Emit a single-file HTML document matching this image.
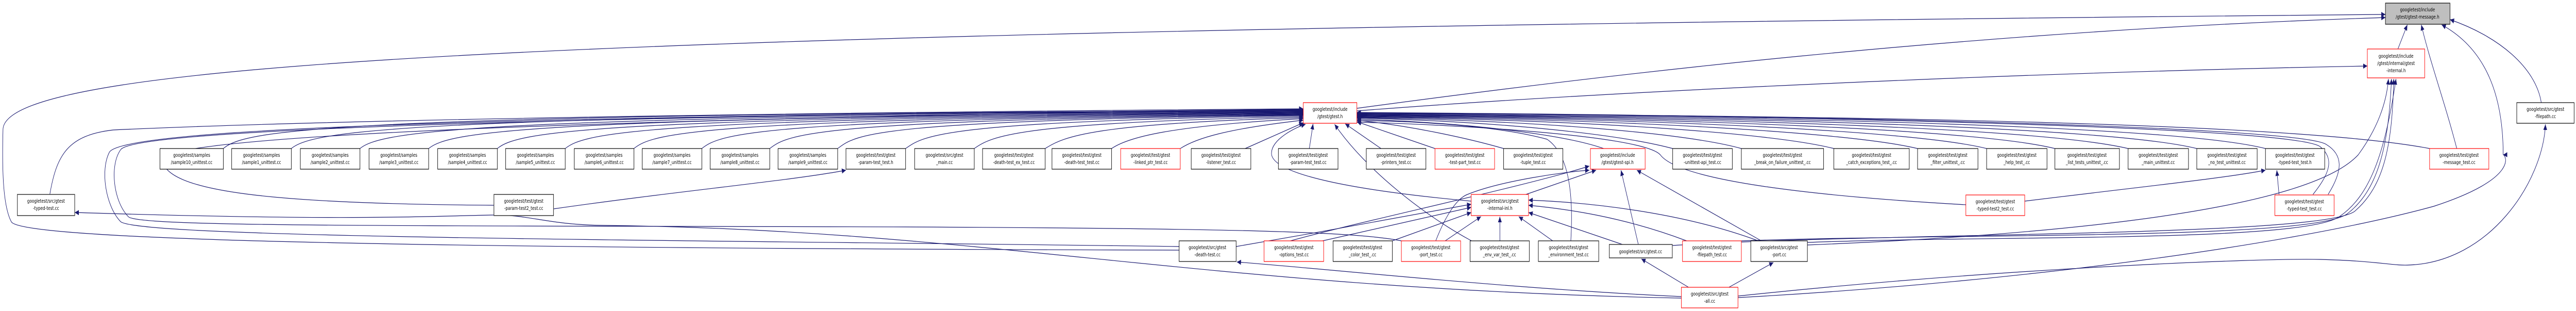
<!DOCTYPE html>
<html><head><meta charset="utf-8">
<style>
html,body{margin:0;padding:0;background:#fff;overflow:hidden;width:100%;height:100%;}
svg{display:block;width:100vw;height:100vh;}
text{font-family:"DejaVu Sans","Liberation Sans",sans-serif;font-size:10px;fill:#000;text-anchor:middle;}
.e{fill:none;stroke:#191970;stroke-width:1.2;}
</style></head>
<body>
<svg viewBox="0 0 6827 603" preserveAspectRatio="none" xmlns="http://www.w3.org/2000/svg">
<defs>
<marker id="a" markerUnits="userSpaceOnUse" markerWidth="12" markerHeight="10" refX="11" refY="5" orient="auto">
<path d="M0,0 L11,5 L0,10 z" fill="#191970"/>
</marker>
</defs>
<g class="edges" marker-end="url(#a)">
<path class="e" d="M592,288 C650,250 900,222 3454,214"/>
<path class="e" d="M772,288 C830,252 1100,224 3454,215"/>
<path class="e" d="M954,288 C1010,254 1250,226 3454,216"/>
<path class="e" d="M1136,288 C1190,255 1400,228 3454,217"/>
<path class="e" d="M1318,288 C1370,256 1550,229 3454,218"/>
<path class="e" d="M1498,288 C1550,257 1700,230 3454,219"/>
<path class="e" d="M1680,288 C1730,258 1850,231 3454,220"/>
<path class="e" d="M1860,288 C1910,259 2000,232 3454,221"/>
<path class="e" d="M2040,288 C2090,260 2150,233 3454,222"/>
<path class="e" d="M2220,288 C2270,261 2300,234 3454,223"/>
<path class="e" d="M2400,288 C2450,262 2500,236 3454,224"/>
<path class="e" d="M2582,288 C2630,263 2700,238 3454,226"/>
<path class="e" d="M2770,288 C2820,264 2900,240 3454,228"/>
<path class="e" d="M2946,288 C2990,266 3100,244 3454,230"/>
<path class="e" d="M3128,288 C3170,268 3250,250 3454,233"/>
<path class="e" d="M3300,288 L3454,238"/>
<path class="e" d="M3470,288 L3480,240"/>
<path class="e" d="M3660,288 L3565,240"/>
<path class="e" d="M3803,288 L3596,236"/>
<path class="e" d="M3985,288 C3900,270 3750,245 3596,233"/>
<path class="e" d="M4250,288 C4150,262 3900,238 3596,231"/>
<path class="e" d="M4433,288 C4300,262 4000,236 3596,229"/>
<path class="e" d="M4615,288 C4480,260 4100,234 3596,228"/>
<path class="e" d="M4860,288 C4700,258 4200,232 3596,227"/>
<path class="e" d="M5082,288 C4900,256 4300,231 3596,226"/>
<path class="e" d="M5265,288 C5080,254 4400,230 3596,225"/>
<path class="e" d="M5446,288 C5250,252 4500,229 3596,224"/>
<path class="e" d="M5640,288 C5420,250 4600,228 3596,223"/>
<path class="e" d="M5822,288 C5600,248 4700,227 3596,222"/>
<path class="e" d="M6004,288 C5780,246 4800,226 3596,221"/>
<path class="e" d="M6439,288 C6100,240 5000,224 3596,220"/>
<path class="e" d="M6130,377 C6170,340 6190,310 6150,285 C6100,250 5000,226 3596,219"/>
<path class="e" d="M6170,377 C6210,330 6210,300 6165,280 C6100,248 5000,225 3596,218"/>
<path class="e" d="M3596,210 C4200,150 5200,60 6322,34"/>
<path class="e" d="M3596,215 C4300,175 5400,140 6274,128"/>
<path class="e" d="M6355,95 L6380,48"/>
<path class="e" d="M6511,288 C6480,200 6440,120 6417,48"/>
<path class="e" d="M6634,300 C6634,200 6600,100 6471,48"/>
<path class="e" d="M6735,199 C6720,130 6620,70 6493,38"/>
<path class="e" d="M3125,485 C1500,482 60,472 30,430 C8,400 5,330 8,250 C20,120 1500,60 6322,28"/>
<path class="e" d="M3125,478 C1800,465 380,462 320,430 C280,400 265,330 290,295 C330,245 1500,224 3454,213"/>
<path class="e" d="M3714,467 C3600,450 3300,443 2400,440 C1000,437 360,440 340,420 C300,390 290,320 320,290 C360,250 1500,226 3454,212"/>
<path class="e" d="M132,377 C150,300 180,262 300,252 C1000,228 2500,216 3454,211"/>
<path class="e" d="M1309,398 C700,395 440,370 430,310 C420,255 2000,226 3454,212"/>
<path class="e" d="M1467,405 C1800,370 2100,350 2242,330"/>
<path class="e" d="M3505,467 L3899,402"/>
<path class="e" d="M3690,467 L3899,412"/>
<path class="e" d="M3830,467 L3925,420"/>
<path class="e" d="M3975,467 L3975,420"/>
<path class="e" d="M4115,467 L4025,420"/>
<path class="e" d="M4300,474 L4051,412"/>
<path class="e" d="M4470,467 C4300,420 4150,405 4051,398"/>
<path class="e" d="M4660,467 C4450,410 4200,392 4051,388"/>
<path class="e" d="M3276,478 C3500,450 3800,410 3899,396"/>
<path class="e" d="M3899,390 C3600,370 3380,340 3370,300 C3365,270 3440,245 3460,241"/>
<path class="e" d="M4044,377 L4230,330"/>
<path class="e" d="M4342,474 L4296,330"/>
<path class="e" d="M4668,467 L4338,330"/>
<path class="e" d="M3805,467 C3830,420 3860,385 3889,377 C3980,350 4150,333 4212,330"/>
<path class="e" d="M3420,467 C3600,430 4050,360 4212,322"/>
<path class="e" d="M3900,467 C3780,420 3620,330 3537,241"/>
<path class="e" d="M4163,467 C4170,380 4160,300 4100,270 C3950,240 3700,234 3596,234"/>
<path class="e" d="M5210,397 C4800,380 4450,350 4400,300 C4350,260 3800,240 3596,237"/>
<path class="e" d="M5366,390 C5700,360 5900,345 6004,330"/>
<path class="e" d="M6040,377 L6034,330"/>
<path class="e" d="M4475,557 L4350,502"/>
<path class="e" d="M4582,557 L4700,509"/>
<path class="e" d="M4456,575 C4000,560 3500,520 3278,508"/>
<path class="e" d="M4456,578 C3200,560 2600,445 1600,437 C1450,436 1400,415 1300,417 C1100,420 900,428 198,412"/>
<path class="e" d="M4606,574 C5300,520 6000,500 6150,503 C6300,506 6340,515 6380,514 C6600,510 6740,350 6746,241"/>
<path class="e" d="M4606,577 C5400,545 6100,470 6450,400 C6680,345 6640,300 6634,300"/>
<path class="e" d="M4790,470 C5300,456 6100,470 6200,420 C6280,380 6320,300 6350,153"/>
<path class="e" d="M4615,467 C5200,452 6120,465 6220,415 C6300,370 6330,290 6338,153"/>
<path class="e" d="M4432,476 C5000,450 6140,460 6240,410 C6320,360 6340,280 6344,153"/>
<path class="e" d="M4790,475 C5300,460 6100,420 6250,300 C6300,250 6325,200 6330,153"/>
</g>

<g stroke-width="1.2">
<g><rect x="424" y="288" width="168" height="40" fill="#fff" stroke="#000"/><text x="508" y="304">googletest/samples</text><text x="508" y="318">/sample10_unittest.cc</text></g>
<g><rect x="614" y="288" width="158" height="40" fill="#fff" stroke="#000"/><text x="693" y="304">googletest/samples</text><text x="693" y="318">/sample1_unittest.cc</text></g>
<g><rect x="796" y="288" width="158" height="40" fill="#fff" stroke="#000"/><text x="875" y="304">googletest/samples</text><text x="875" y="318">/sample2_unittest.cc</text></g>
<g><rect x="978" y="288" width="158" height="40" fill="#fff" stroke="#000"/><text x="1057" y="304">googletest/samples</text><text x="1057" y="318">/sample3_unittest.cc</text></g>
<g><rect x="1160" y="288" width="158" height="40" fill="#fff" stroke="#000"/><text x="1239" y="304">googletest/samples</text><text x="1239" y="318">/sample4_unittest.cc</text></g>
<g><rect x="1340" y="288" width="158" height="40" fill="#fff" stroke="#000"/><text x="1419" y="304">googletest/samples</text><text x="1419" y="318">/sample5_unittest.cc</text></g>
<g><rect x="1522" y="288" width="158" height="40" fill="#fff" stroke="#000"/><text x="1601" y="304">googletest/samples</text><text x="1601" y="318">/sample6_unittest.cc</text></g>
<g><rect x="1702" y="288" width="158" height="40" fill="#fff" stroke="#000"/><text x="1781" y="304">googletest/samples</text><text x="1781" y="318">/sample7_unittest.cc</text></g>
<g><rect x="1882" y="288" width="158" height="40" fill="#fff" stroke="#000"/><text x="1961" y="304">googletest/samples</text><text x="1961" y="318">/sample8_unittest.cc</text></g>
<g><rect x="2062" y="288" width="158" height="40" fill="#fff" stroke="#000"/><text x="2141" y="304">googletest/samples</text><text x="2141" y="318">/sample9_unittest.cc</text></g>
<g><rect x="2242" y="288" width="158" height="40" fill="#fff" stroke="#000"/><text x="2321" y="304">googletest/test/gtest</text><text x="2321" y="318">-param-test_test.h</text></g>
<g><rect x="2424" y="288" width="158" height="40" fill="#fff" stroke="#000"/><text x="2503" y="304">googletest/src/gtest</text><text x="2503" y="318">_main.cc</text></g>
<g><rect x="2604" y="288" width="166" height="40" fill="#fff" stroke="#000"/><text x="2687" y="304">googletest/test/gtest</text><text x="2687" y="318">-death-test_ex_test.cc</text></g>
<g><rect x="2788" y="288" width="158" height="40" fill="#fff" stroke="#000"/><text x="2867" y="304">googletest/test/gtest</text><text x="2867" y="318">-death-test_test.cc</text></g>
<g><rect x="2970" y="288" width="158" height="40" fill="#fff" stroke="#f00"/><text x="3049" y="304">googletest/test/gtest</text><text x="3049" y="318">-linked_ptr_test.cc</text></g>
<g><rect x="3157" y="288" width="158" height="40" fill="#fff" stroke="#000"/><text x="3236" y="304">googletest/test/gtest</text><text x="3236" y="318">-listener_test.cc</text></g>
<g><rect x="3388" y="288" width="158" height="40" fill="#fff" stroke="#000"/><text x="3467" y="304">googletest/test/gtest</text><text x="3467" y="318">-param-test_test.cc</text></g>
<g><rect x="3621" y="288" width="158" height="40" fill="#fff" stroke="#000"/><text x="3700" y="304">googletest/test/gtest</text><text x="3700" y="318">-printers_test.cc</text></g>
<g><rect x="3803" y="288" width="158" height="40" fill="#fff" stroke="#f00"/><text x="3882" y="304">googletest/test/gtest</text><text x="3882" y="318">-test-part_test.cc</text></g>
<g><rect x="3985" y="288" width="157" height="40" fill="#fff" stroke="#000"/><text x="4063" y="304">googletest/test/gtest</text><text x="4063" y="318">-tuple_test.cc</text></g>
<g><rect x="4215" y="288" width="145" height="40" fill="#fff" stroke="#f00"/><text x="4287" y="304">googletest/include</text><text x="4287" y="318">/gtest/gtest-spi.h</text></g>
<g><rect x="4433" y="288" width="158" height="40" fill="#fff" stroke="#000"/><text x="4512" y="304">googletest/test/gtest</text><text x="4512" y="318">-unittest-api_test.cc</text></g>
<g><rect x="4615" y="288" width="218" height="40" fill="#fff" stroke="#000"/><text x="4724" y="304">googletest/test/gtest</text><text x="4724" y="318">_break_on_failure_unittest_.cc</text></g>
<g><rect x="4860" y="288" width="200" height="40" fill="#fff" stroke="#000"/><text x="4960" y="304">googletest/test/gtest</text><text x="4960" y="318">_catch_exceptions_test_.cc</text></g>
<g><rect x="5082" y="288" width="160" height="40" fill="#fff" stroke="#000"/><text x="5162" y="304">googletest/test/gtest</text><text x="5162" y="318">_filter_unittest_.cc</text></g>
<g><rect x="5265" y="288" width="160" height="40" fill="#fff" stroke="#000"/><text x="5345" y="304">googletest/test/gtest</text><text x="5345" y="318">_help_test_.cc</text></g>
<g><rect x="5446" y="288" width="171" height="40" fill="#fff" stroke="#000"/><text x="5531" y="304">googletest/test/gtest</text><text x="5531" y="318">_list_tests_unittest_.cc</text></g>
<g><rect x="5640" y="288" width="160" height="40" fill="#fff" stroke="#000"/><text x="5720" y="304">googletest/test/gtest</text><text x="5720" y="318">_main_unittest.cc</text></g>
<g><rect x="5822" y="288" width="160" height="40" fill="#fff" stroke="#000"/><text x="5902" y="304">googletest/test/gtest</text><text x="5902" y="318">_no_test_unittest.cc</text></g>
<g><rect x="6004" y="288" width="157" height="40" fill="#fff" stroke="#000"/><text x="6082" y="304">googletest/test/gtest</text><text x="6082" y="318">-typed-test_test.h</text></g>
<g><rect x="6439" y="288" width="157" height="40" fill="#fff" stroke="#f00"/><text x="6517" y="304">googletest/test/gtest</text><text x="6517" y="318">-message_test.cc</text></g>

<g><rect x="3454" y="199" width="142" height="40" fill="#fff" stroke="#f00"/><text x="3525" y="215">googletest/include</text><text x="3525" y="229">/gtest/gtest.h</text></g>
<g><rect x="6322" y="6" width="171" height="41" fill="#bfbfbf" stroke="#000"/><text x="6407" y="22">googletest/include</text><text x="6407" y="36">/gtest/gtest-message.h</text></g>
<g><rect x="6274" y="95" width="152" height="56" fill="#fff" stroke="#f00"/><text x="6350" y="112">googletest/include</text><text x="6350" y="126">/gtest/internal/gtest</text><text x="6350" y="140">-internal.h</text></g>
<g><rect x="6670" y="199" width="152" height="40" fill="#fff" stroke="#000"/><text x="6746" y="215">googletest/src/gtest</text><text x="6746" y="229">-filepath.cc</text></g>

<g><rect x="46" y="377" width="152" height="41" fill="#fff" stroke="#404040" stroke-width="1.6"/><text x="122" y="393">googletest/src/gtest</text><text x="122" y="407">-typed-test.cc</text></g>
<g><rect x="1309" y="377" width="158" height="41" fill="#fff" stroke="#404040" stroke-width="1.6"/><text x="1388" y="393">googletest/test/gtest</text><text x="1388" y="407">-param-test2_test.cc</text></g>
<g><rect x="3899" y="377" width="152" height="41" fill="#fff" stroke="#f00"/><text x="3975" y="393">googletest/src/gtest</text><text x="3975" y="407">-internal-inl.h</text></g>
<g><rect x="5210" y="378" width="156" height="40" fill="#fff" stroke="#f00"/><text x="5288" y="394">googletest/test/gtest</text><text x="5288" y="408">-typed-test2_test.cc</text></g>
<g><rect x="6029" y="378" width="157" height="40" fill="#fff" stroke="#f00"/><text x="6107" y="394">googletest/test/gtest</text><text x="6107" y="408">-typed-test_test.cc</text></g>

<g><rect x="3125" y="467" width="151" height="40" fill="#fff" stroke="#000"/><text x="3200" y="483">googletest/src/gtest</text><text x="3200" y="497">-death-test.cc</text></g>
<g><rect x="3350" y="467" width="158" height="40" fill="#fff" stroke="#f00"/><text x="3429" y="483">googletest/test/gtest</text><text x="3429" y="497">-options_test.cc</text></g>
<g><rect x="3533" y="467" width="157" height="40" fill="#fff" stroke="#000"/><text x="3611" y="483">googletest/test/gtest</text><text x="3611" y="497">_color_test_.cc</text></g>
<g><rect x="3714" y="467" width="157" height="40" fill="#fff" stroke="#f00"/><text x="3792" y="483">googletest/test/gtest</text><text x="3792" y="497">-port_test.cc</text></g>
<g><rect x="3896" y="467" width="157" height="40" fill="#fff" stroke="#000"/><text x="3974" y="483">googletest/test/gtest</text><text x="3974" y="497">_env_var_test_.cc</text></g>
<g><rect x="4077" y="467" width="160" height="40" fill="#fff" stroke="#000"/><text x="4157" y="483">googletest/test/gtest</text><text x="4157" y="497">_environment_test.cc</text></g>
<g><rect x="4265" y="474" width="167" height="26" fill="#fff" stroke="#404040" stroke-width="1.6"/><text x="4348" y="491">googletest/src/gtest.cc</text></g>
<g><rect x="4459" y="467" width="156" height="40" fill="#fff" stroke="#f00"/><text x="4537" y="483">googletest/test/gtest</text><text x="4537" y="497">-filepath_test.cc</text></g>
<g><rect x="4640" y="467" width="150" height="40" fill="#fff" stroke="#000"/><text x="4715" y="483">googletest/src/gtest</text><text x="4715" y="497">-port.cc</text></g>

<g><rect x="4456" y="557" width="150" height="40" fill="#fff" stroke="#f00"/><text x="4531" y="573">googletest/src/gtest</text><text x="4531" y="587">-all.cc</text></g>
</g>
</svg>
</body></html>
